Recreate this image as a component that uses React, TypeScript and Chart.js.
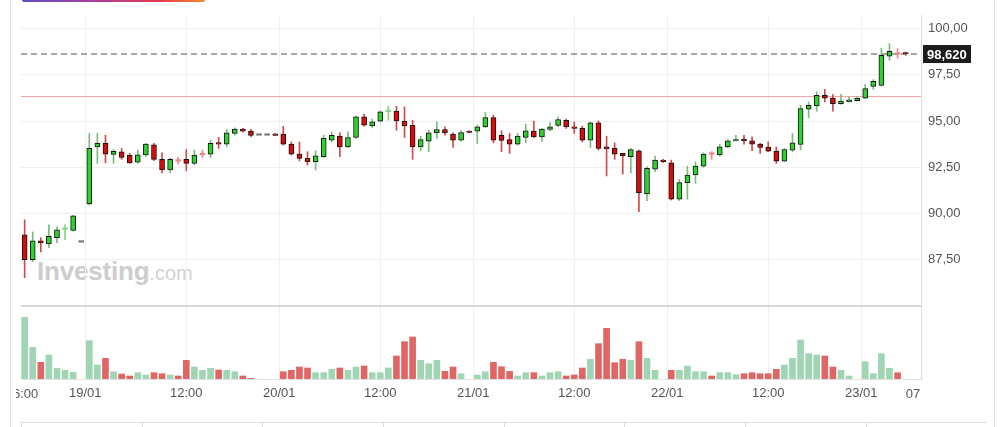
import { useEffect, useRef } from "react";
import { Chart, registerables } from "chart.js";

Chart.register(...registerables);
Chart.defaults.font.family = '"Liberation Sans", Arial, sans-serif';

// hourly candles (index 0 = 18/01 16:00)
const OPEN = [
  88.85, 87.5, 88.52, 88.36, 88.7, 89.14, 89.08, 88.45, 90.52, 93.6,
  93.79, 93.2, 93.34, 93.14, 92.78, 93.16, 93.71, 92.93, 92.35, 92.86,
  92.93, 92.71, 93.21, 93.21, 93.84, 93.75, 94.33, 94.56, 94.45, 94.23,
  94.23, 94.3, 94.29, 93.75, 93.21, 92.98, 92.8, 93.07, 93.97, 94.18,
  93.6, 94.11, 95.22, 94.74, 94.99, 95.5, 95.53, 94.99, 94.77, 93.6,
  93.91, 94.36, 94.54, 94.29, 93.97, 94.45, 94.45, 94.68, 95.19, 94.23,
  94.0, 93.75, 94.11, 94.45, 94.14, 94.54, 94.76, 95.04, 94.68, 94.6,
  93.97, 94.9, 93.6, 93.52, 93.25, 93.07, 93.39, 91.06, 92.4, 92.89,
  92.74, 90.77, 91.67, 92.08, 92.56, 93.23, 93.16, 93.6, 93.92, 94.02,
  93.93, 93.75, 93.59, 93.37, 92.83, 93.43, 93.73, 95.64, 95.81, 96.39,
  96.24, 95.94, 96.03, 96.1, 96.24, 96.87, 96.93, 98.51, 98.64, 98.69,
];
const HIGH = [
  89.66, 89.0, 88.69, 89.39, 89.28, 89.39, 89.9, 88.45, 94.33, 94.33,
  94.23, 93.46, 93.52, 93.25, 93.43, 93.79, 93.79, 93.28, 93.0, 93.03,
  93.46, 93.43, 93.43, 93.97, 94.11, 94.54, 94.63, 94.6, 94.55, 94.23,
  94.23, 94.32, 94.72, 93.87, 93.87, 93.34, 93.39, 94.23, 94.41, 94.36,
  94.41, 95.26, 95.37, 95.1, 95.55, 95.8, 95.8, 95.76, 95.04, 94.18,
  94.5, 94.95, 94.68, 94.36, 94.5, 94.47, 94.77, 95.46, 95.31, 94.47,
  94.33, 94.33, 94.83, 95.0, 94.6, 94.92, 95.22, 95.1, 94.95, 94.72,
  94.95, 95.0, 94.18, 93.82, 93.25, 93.52, 93.43, 92.53, 93.1, 92.93,
  92.89, 91.85, 92.56, 92.8, 93.28, 93.34, 93.75, 94.0, 94.23, 94.23,
  94.14, 93.79, 93.87, 93.6, 93.52, 94.33, 95.85, 96.03, 96.57, 96.71,
  96.43, 96.44, 96.3, 96.3, 96.97, 97.24, 98.94, 99.18, 98.91, 98.72,
];
const LOW = [
  86.53, 87.39, 87.92, 88.15, 88.42, 88.58, 89.05, 88.45, 90.46, 92.71,
  92.74, 92.71, 92.93, 92.71, 92.71, 93.07, 92.85, 92.2, 92.2, 92.67,
  92.31, 92.62, 93.03, 93.03, 93.52, 93.6, 94.23, 94.4, 94.15, 94.23,
  94.23, 94.2, 93.7, 93.16, 92.85, 92.62, 92.35, 93.03, 93.87, 93.07,
  93.57, 94.06, 94.72, 94.63, 94.95, 95.04, 94.5, 94.11, 92.93, 93.39,
  93.34, 94.06, 94.23, 93.57, 93.9, 94.36, 93.79, 94.65, 93.82, 93.34,
  93.25, 93.7, 93.82, 94.11, 93.9, 94.47, 94.68, 94.6, 94.33, 93.87,
  93.57, 93.43, 92.03, 92.93, 92.13, 92.2, 90.1, 90.7, 92.26, 92.75,
  90.73, 90.7, 90.77, 91.63, 92.5, 92.93, 93.1, 93.55, 93.92, 93.75,
  93.39, 93.25, 93.34, 92.71, 92.8, 93.34, 93.43, 95.17, 95.53, 96.03,
  95.53, 95.9, 96.03, 96.08, 96.21, 96.71, 96.89, 98.28, 98.4, 98.55,
];
const CLOSE = [
  87.5, 88.52, 88.41, 88.76, 89.12, 89.17, 89.87, 88.45, 93.52, 93.79,
  93.21, 93.36, 93.03, 92.74, 93.17, 93.75, 92.93, 92.35, 92.93, 92.83,
  92.71, 93.16, 93.18, 93.79, 93.75, 94.36, 94.57, 94.45, 94.22, 94.23,
  94.23, 94.22, 93.75, 93.21, 92.98, 92.8, 93.12, 94.06, 94.23, 93.6,
  94.11, 95.22, 94.77, 94.95, 95.49, 95.53, 95.0, 94.74, 93.6, 94.0,
  94.36, 94.54, 94.36, 93.97, 94.38, 94.38, 94.68, 95.19, 93.97, 93.95,
  93.75, 94.18, 94.47, 94.14, 94.56, 94.68, 95.08, 94.68, 94.6, 93.97,
  94.9, 93.52, 93.5, 93.21, 93.12, 93.46, 91.13, 92.44, 92.89, 92.8,
  90.77, 91.67, 92.08, 92.56, 93.21, 93.2, 93.6, 93.93, 94.0, 93.93,
  93.75, 93.57, 93.37, 92.83, 93.46, 93.82, 95.67, 95.85, 96.39, 96.24,
  95.94, 96.08, 96.14, 96.24, 96.75, 97.14, 98.55, 98.76, 98.61, 98.62,
];
const VOLUME = [
  61.7, 31.7, 16.7, 24, 10.7, 8.7, 6.7, null, 38.3, 14,
  20.7, 7.3, 5, 3, 6.3, 4, 6.3, 5.3, 4, 3,
  18.7, 12, 8.7, 10.7, 9, 8.7, 7.3, 3, 0.7, null,
  null, null, 7.3, 8.7, 12, 11, 6.3, 6.3, 9.7, 11,
  8.7, 12, 13, 6.3, 6.3, 11, 23, 37.3, 42, 18.7,
  15.3, 18.7, 7.7, 12, 5.3, null, 4, 7.3, 16.7, 12.3,
  7.7, 3, 6.3, 6.3, 3, 6.3, 7.3, 3, 4, 11,
  19.7, 35.3, 50.7, 16.3, 19.7, 18.7, 37.3, 20.7, 8.7, null,
  8.7, 8.7, 13, 7.3, 7.3, 3, 6.3, 6.3, 4.3, 5.3,
  6.3, 5.3, 5.3, 9.7, 14, 20.7, 39, 25.3, 24, 23,
  12, 8.7, 3, null, 17.3, 5.3, 25.3, 10.7, 6.3, null,
];

const X_TICKS = [7.5, 20, 31.5, 44, 55.5, 68, 79.5, 92, 103.5];
const X_LABELS = ["19/01", "12:00", "20/01", "12:00", "21/01", "12:00", "22/01", "12:00", "23/01"];
const EDGE_LABELS = ["16:00", "07:00"];
const PRICE_TICKS = [87.5, 90, 92.5, 95, 97.5, 100];
const PRICE_PANE_BOTTOM = 85;
const REF_LINE = 96.34;
const LAST_PRICE = 98.62;
const VOLUME_AXIS_MAX = 364; // volume pane = bottom 72 of 364 px

const UP = "#2fd12f";
const DOWN = "#dc0b0b";
const WICK_UP = "#7dbb7d";
const WICK_DOWN = "#cc4c4c";
const LIGHT_UP = "#86d486";
const LIGHT_DOWN = "#e88888";
const FLAT = "#777777";
const VOL_UP = "#9fd5b3";
const VOL_DOWN = "#e06565";

const comma = (v: number, d: number) => v.toFixed(d).replace(".", ",");

const overlays = {
  id: "overlays",
  beforeDatasetsDraw(chart: any) {
    const { ctx, chartArea: a, scales } = chart;
    const y = scales.y;
    ctx.save();
    ctx.strokeStyle = "#f5a3a3";
    ctx.lineWidth = 1;
    ctx.beginPath();
    const ry = Math.round(y.getPixelForValue(REF_LINE)) + 0.5;
    ctx.moveTo(a.left, ry);
    ctx.lineTo(a.right, ry);
    ctx.stroke();

    ctx.strokeStyle = "#8a8a8a";
    ctx.lineWidth = 1.6;
    ctx.setLineDash([6, 4]);
    ctx.beginPath();
    const ly = y.getPixelForValue(LAST_PRICE);
    ctx.moveTo(a.left, ly);
    ctx.lineTo(a.right, ly);
    ctx.stroke();
    ctx.setLineDash([]);

    ctx.strokeStyle = "#d9d9d9";
    ctx.lineWidth = 2;
    ctx.beginPath();
    const sy = y.getPixelForValue(PRICE_PANE_BOTTOM);
    ctx.moveTo(a.left, sy);
    ctx.lineTo(a.right, sy);
    ctx.stroke();
    ctx.restore();
  },
  afterDraw(chart: any) {
    const { ctx, chartArea: a, scales } = chart;
    const ly = scales.y.getPixelForValue(LAST_PRICE);
    ctx.save();
    ctx.fillStyle = "#1c1c1c";
    ctx.fillRect(a.right + 2, ly - 9, 48, 18);
    ctx.fillStyle = "#ffffff";
    ctx.font = 'bold 13px "Liberation Sans", Arial, sans-serif';
    ctx.textAlign = "left";
    ctx.textBaseline = "middle";
    ctx.fillText(comma(LAST_PRICE, 3), a.right + 6, ly + 1);

    // edge time labels, cut by the pane edges as in the original
    ctx.beginPath();
    ctx.rect(16, a.bottom, a.right - 16, 48);
    ctx.clip();
    ctx.fillStyle = "#555555";
    ctx.font = '13px "Liberation Sans", Arial, sans-serif';
    ctx.textAlign = "center";
    ctx.fillText(EDGE_LABELS[0], scales.x.getPixelForValue(scales.x.min) + 1, a.bottom + 15);
    ctx.fillText(EDGE_LABELS[1], a.right + 1, a.bottom + 15);
    ctx.restore();
  },
};

export default function App() {
  const canvasRef = useRef<HTMLCanvasElement>(null);
  const chartRef = useRef<Chart | null>(null);

  useEffect(() => {
    if (!canvasRef.current) return;
    chartRef.current?.destroy();
    const idx = OPEN.map((_, i) => i);
    const flat = (i: number) => HIGH[i] === LOW[i];
    const cross = (i: number) => !flat(i) && Math.abs(CLOSE[i] - OPEN[i]) < 0.04;
    const up = (i: number) => CLOSE[i] >= OPEN[i];
    const volUp = (i: number) => i === 0 || CLOSE[i] >= CLOSE[i - 1];

    chartRef.current = new Chart(canvasRef.current, {
      type: "bar",
      data: {
        datasets: [
          {
            label: "body",
            data: idx.map((i) => ({ x: i, y: [OPEN[i], CLOSE[i]] })) as any,
            backgroundColor: idx.map((i) =>
              flat(i) ? FLAT : cross(i) ? (up(i) ? LIGHT_UP : LIGHT_DOWN) : up(i) ? UP : DOWN
            ),
            borderColor: "#111111",
            borderWidth: idx.map((i) => (flat(i) || cross(i) ? 0 : 1)) as any,
            borderSkipped: false,
            barThickness: 5,
            minBarLength: 1.5,
            grouped: false,
            order: 0,
            yAxisID: "y",
          },
          {
            label: "wick",
            data: idx.map((i) => ({ x: i, y: [LOW[i], HIGH[i]] })) as any,
            backgroundColor: idx.map((i) =>
              flat(i) ? "rgba(0,0,0,0)" : cross(i) ? (up(i) ? LIGHT_UP : LIGHT_DOWN) : up(i) ? WICK_UP : WICK_DOWN
            ),
            borderWidth: 0,
            barThickness: 1,
            grouped: false,
            order: 1,
            yAxisID: "y",
          },
          {
            label: "volume",
            data: idx.map((i) => ({ x: i, y: VOLUME[i] })) as any,
            backgroundColor: idx.map((i) => (volUp(i) ? VOL_UP : VOL_DOWN)),
            borderWidth: 0,
            barThickness: 6,
            grouped: false,
            order: 2,
            yAxisID: "yv",
          },
        ],
      },
      options: {
        responsive: true,
        maintainAspectRatio: false,
        animation: false,
        events: [],
        layout: { padding: { left: 21, top: 15, right: 0, bottom: 0 } },
        plugins: { legend: { display: false }, tooltip: { enabled: false } },
        scales: {
          x: {
            type: "linear",
            offset: false,
            min: -0.45,
            max: 110.9,
            afterBuildTicks: (s: any) => {
              s.ticks = X_TICKS.map((value) => ({ value }));
            },
            afterFit: (s: any) => {
              s.height = 48;
            },
            grid: { color: "#efefef", tickLength: 3, offset: false },
            border: { color: "#e2e2e2" },
            ticks: {
              callback: (_v: any, i: number) => X_LABELS[i],
              color: "#555555",
              font: { size: 13 },
              padding: 4,
              maxRotation: 0,
              autoSkip: false,
            },
          },
          y: {
            position: "right",
            min: 81.054,
            max: 100.73,
            afterBuildTicks: (s: any) => {
              s.ticks = PRICE_TICKS.map((value) => ({ value }));
            },
            afterFit: (s: any) => {
              s.width = 81;
            },
            grid: { color: "#efefef", drawTicks: false },
            border: { color: "#dcdcdc" },
            ticks: {
              callback: (v: any) => comma(Number(v), 2),
              color: "#555555",
              font: { size: 13 },
              padding: 7,
            },
          },
          yv: { display: false, min: 0, max: VOLUME_AXIS_MAX },
        },
      },
      plugins: [overlays],
    });
    return () => chartRef.current?.destroy();
  }, []);

  return (
    <div style={{ position: "absolute", left: 0, top: 0, width: 1002, height: 427, overflow: "hidden", background: "#fff" }}>
      <div style={{ position: "absolute", left: 10, top: 0, width: 983, height: 427, borderLeft: "1px solid #e2e2e2", borderRight: "1px solid #e2e2e2" }} />
      <div
        style={{
          position: "absolute",
          left: 22,
          top: -2,
          width: 183,
          height: 4,
          borderRadius: 2,
          background: "linear-gradient(90deg, #5e4ec6, #b53c92 45%, #e5394f 75%, #f28a2c)",
        }}
      />
      <div
        style={{
          position: "absolute",
          left: 37,
          top: 258,
          fontFamily: '"Liberation Sans", Arial, sans-serif',
          color: "#cdcdcd",
          lineHeight: 1,
          whiteSpace: "nowrap",
        }}
      >
        <span style={{ fontSize: 26, fontWeight: "bold", letterSpacing: -0.2 }}>Investing</span>
        <span style={{ fontSize: 20, color: "#d2d2d2" }}>.com</span>
      </div>
      <div style={{ position: "absolute", left: 21, top: 422, display: "flex", borderTop: "1px solid #dcdcdc" }}>
        {Array.from({ length: 8 }).map((_, k) => (
          <div key={k} style={{ width: 120.7, height: 10, borderLeft: "1px solid #dcdcdc", boxSizing: "border-box" }} />
        ))}
      </div>
      <div style={{ position: "absolute", left: 0, top: 0, width: 1002, height: 427 }}>
        <canvas ref={canvasRef} />
      </div>
    </div>
  );
}
